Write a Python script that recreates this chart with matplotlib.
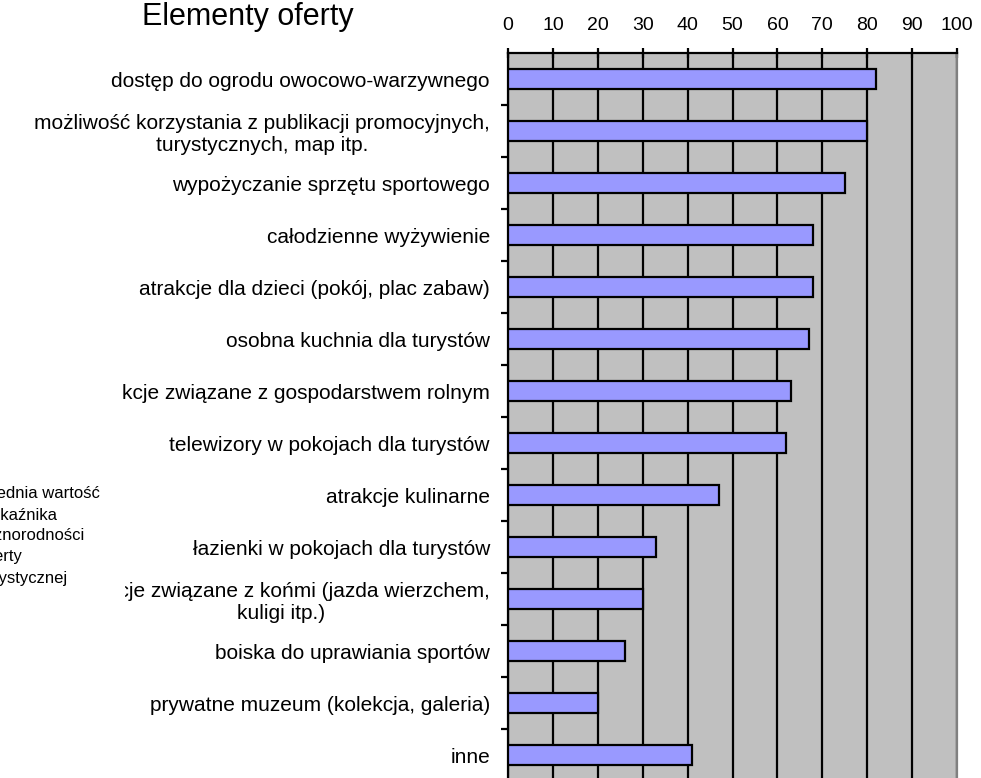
import matplotlib
matplotlib.use("Agg")
import matplotlib.pyplot as plt
from matplotlib.transforms import Bbox
import numpy as np

plt.rcParams['font.family'] = ['Liberation Sans', 'DejaVu Sans']

categories = [
    "dostęp do ogrodu owocowo-warzywnego",
    "możliwość korzystania z publikacji promocyjnych,\nturystycznych, map itp.",
    "wypożyczanie sprzętu sportowego",
    "całodzienne wyżywienie",
    "atrakcje dla dzieci (pokój, plac zabaw)",
    "osobna kuchnia dla turystów",
    "atrakcje związane z gospodarstwem rolnym",
    "telewizory w pokojach dla turystów",
    "atrakcje kulinarne",
    "łazienki w pokojach dla turystów",
    "atrakcje związane z końmi (jazda wierzchem,\nkuligi itp.)",
    "boiska do uprawiania sportów",
    "prywatne muzeum (kolekcja, galeria)",
    "inne",
]
values = [82, 80, 75, 68, 68, 67, 63, 62, 47, 33, 30, 26, 20, 41]
x_ticks = [0, 10, 20, 30, 40, 50, 60, 70, 80, 90, 100]
title = "Elementy oferty"
legend_text = "Średnia wartość\nwskaźnika\nróżnorodności\noferty\nturystycznej"
# rows whose start is hidden in the reference: (row, hidden prefix, extra px shown)
clipped_rows = [(6, "atra", 0), (10, "atrakc", 4)]

LABEL_FS = 15
W, H = 981, 778
fig = plt.figure(figsize=(W / 100, H / 100), dpi=100)
left, right, top, bottom = 508, 957, 53, 781
ax = fig.add_axes([left / W, 1 - bottom / H, (right - left) / W, (bottom - top) / H])

ax.set_facecolor('#C0C0C0')
y = np.arange(len(categories))
ax.barh(y, values, height=0.39, color='#9999FF', edgecolor='black', linewidth=1.6, zorder=3)

ax.set_xlim(0, 100)
ax.set_ylim(len(categories) - 0.5, -0.5)

ax.xaxis.tick_top()
ax.set_xticks(x_ticks)
ax.set_xticklabels([str(v) for v in x_ticks], fontsize=14)
ax.tick_params(axis='x', direction='inout', length=7, width=1.6, pad=10, colors='black')
ax.grid(axis='x', color='black', linewidth=1.6, zorder=1)
ax.set_axisbelow(True)

ax.set_yticks(y)
labels = ax.set_yticklabels(categories, fontsize=LABEL_FS, multialignment='center')
ax.tick_params(axis='y', which='major', length=0, pad=13)
ax.set_yticks(np.arange(0.5, len(categories) - 0.5, 1), minor=True)
ax.tick_params(axis='y', which='minor', length=5, width=1.6, direction='out')

for s in ['top', 'left']:
    ax.spines[s].set_linewidth(1.6)
    ax.spines[s].set_color('black')
ax.spines['right'].set_color('#808080')
ax.spines['right'].set_linewidth(1.6)
ax.spines['bottom'].set_visible(False)

fig.text(248 / W, 1 - 25 / H, title, fontsize=22, ha='center', va='baseline')
fig.text(-20 / W, 1 - 536 / H, legend_text, fontsize=12, ha='left', va='center', linespacing=1.5)

# Excel hid the start of two long labels: clip them like the reference
fig.canvas.draw()
renderer = fig.canvas.get_renderer()
for i, prefix, extra in clipped_rows:
    tmp = fig.text(0, 0, prefix, fontsize=LABEL_FS)
    prefix_w = tmp.get_window_extent(renderer).width
    tmp.remove()
    x0 = labels[i].get_window_extent(renderer).x0
    cut = x0 + prefix_w - extra
    labels[i].set_clip_on(True)
    labels[i].set_clip_box(Bbox.from_extents(cut, 0, W, H))

fig.savefig("out.png", dpi=100)
